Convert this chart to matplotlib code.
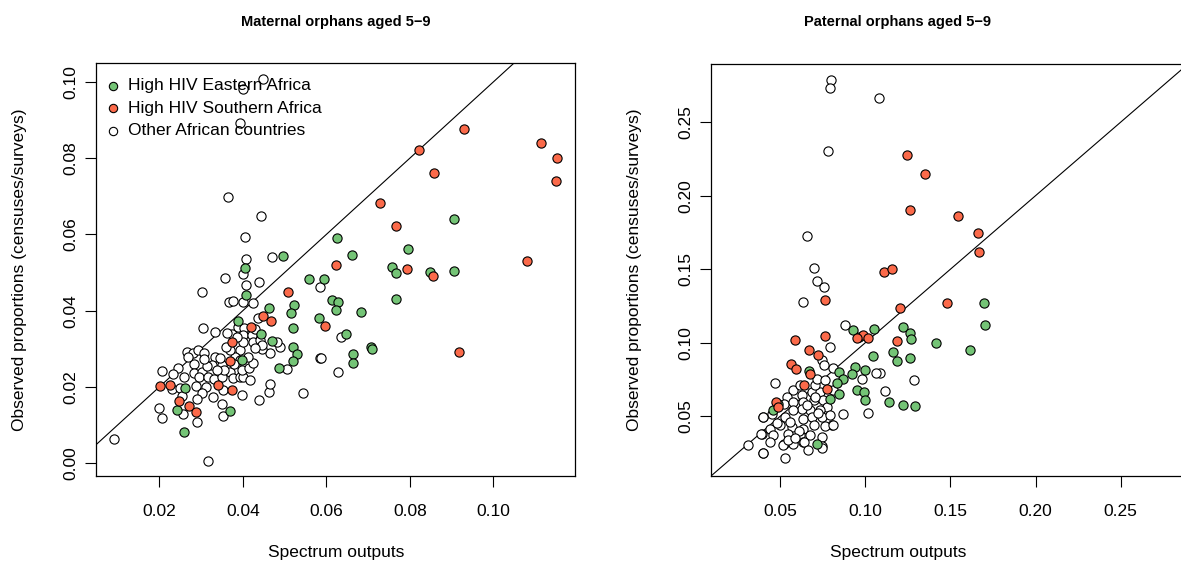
import os
import numpy as np
import matplotlib.pyplot as plt
from matplotlib import font_manager as fm

plt.rcParams["font.family"] = ["Liberation Sans", "DejaVu Sans"]

# -----------------------------
# DATA
# -----------------------------
GREEN = "#74C476"
RED = "#FB6A4A"

# maternal orphans: High HIV Eastern Africa
mat_east_x = [0.0626, 0.0662, 0.0906, 0.0795, 0.0758, 0.0767, 0.0848, 0.0905, 0.0558, 0.0594,
              0.0614, 0.0629, 0.0623, 0.0683, 0.0583, 0.0766, 0.0648, 0.0707, 0.0709, 0.0664,
              0.0663, 0.0407, 0.0463, 0.0523, 0.0516, 0.0520, 0.0521, 0.0529, 0.0520, 0.0487,
              0.0443, 0.0469, 0.0397, 0.0388, 0.0370, 0.0405, 0.0495, 0.0262, 0.0243, 0.0260]
mat_east_y = [0.0591, 0.0545, 0.0641, 0.0563, 0.0514, 0.0498, 0.0502, 0.0503, 0.0484, 0.0483,
              0.0428, 0.0423, 0.0402, 0.0396, 0.0381, 0.0430, 0.0338, 0.0304, 0.0299, 0.0286,
              0.0262, 0.0441, 0.0408, 0.0414, 0.0393, 0.0354, 0.0305, 0.0285, 0.0269, 0.0249,
              0.0339, 0.0320, 0.0270, 0.0373, 0.0137, 0.0513, 0.0543, 0.0196, 0.0139, 0.0081]

# maternal orphans: High HIV Southern Africa
mat_south_x = [0.0930, 0.1115, 0.1153, 0.1151, 0.0821, 0.0859, 0.0728, 0.0767, 0.0624, 0.0793,
               0.0855, 0.1080, 0.0598, 0.0918, 0.0507, 0.0467, 0.0449, 0.0419, 0.0373, 0.0370,
               0.0340, 0.0375, 0.0202, 0.0225, 0.0247, 0.0272, 0.0288]
mat_south_y = [0.0876, 0.0839, 0.0800, 0.0739, 0.0822, 0.0761, 0.0682, 0.0621, 0.0520, 0.0509,
               0.0490, 0.0529, 0.0360, 0.0292, 0.0448, 0.0373, 0.0386, 0.0356, 0.0317, 0.0269,
               0.0205, 0.0192, 0.0202, 0.0205, 0.0163, 0.0151, 0.0133]

# maternal orphans: other African countries
mat_other_x = [0.0448, 0.0400, 0.0393, 0.0365, 0.0443, 0.0406, 0.0407, 0.0470, 0.0357, 0.0400,
               0.0408, 0.0439, 0.0301, 0.0367, 0.0377, 0.0400, 0.0424, 0.0305, 0.0333, 0.0437,
               0.0205, 0.0200, 0.0205, 0.0091, 0.0317, 0.0291, 0.0256, 0.0352, 0.0349, 0.0439,
               0.0462, 0.0465, 0.0397, 0.0545, 0.0505, 0.0585, 0.0489, 0.0481, 0.0465, 0.0447,
               0.0245, 0.0233, 0.0259, 0.0265, 0.0280, 0.0292, 0.0308, 0.0283, 0.0269, 0.0282,
               0.0302, 0.0294, 0.0317, 0.0331, 0.0351, 0.0288, 0.0312, 0.0301, 0.0291, 0.0328,
               0.0353, 0.0230, 0.0249, 0.0255, 0.0333, 0.0325, 0.0349, 0.0369, 0.0377, 0.0393,
               0.0401, 0.0417, 0.0397, 0.0415, 0.0425, 0.0413, 0.0393, 0.0381, 0.0369, 0.0359,
               0.0373, 0.0389, 0.0403, 0.0400, 0.0401, 0.0421, 0.0425, 0.0429, 0.0441, 0.0445,
               0.0429, 0.0385, 0.0363, 0.0393, 0.0378, 0.0345, 0.0354, 0.0338, 0.0313, 0.0307,
               0.0584, 0.0634, 0.0587, 0.0627]
mat_other_y = [0.1009, 0.0981, 0.0892, 0.0697, 0.0648, 0.0592, 0.0535, 0.0540, 0.0486, 0.0495,
               0.0467, 0.0474, 0.0450, 0.0422, 0.0425, 0.0422, 0.0419, 0.0354, 0.0343, 0.0381,
               0.0241, 0.0144, 0.0117, 0.0062, 0.0006, 0.0107, 0.0130, 0.0124, 0.0154, 0.0165,
               0.0187, 0.0207, 0.0178, 0.0183, 0.0247, 0.0275, 0.0304, 0.0318, 0.0288, 0.0300,
               0.0249, 0.0235, 0.0227, 0.0292, 0.0288, 0.0297, 0.0290, 0.0259, 0.0279, 0.0237,
               0.0240, 0.0225, 0.0227, 0.0220, 0.0227, 0.0202, 0.0200, 0.0183, 0.0167, 0.0174,
               0.0193, 0.0194, 0.0198, 0.0177, 0.0279, 0.0257, 0.0257, 0.0240, 0.0222, 0.0227,
               0.0225, 0.0218, 0.0244, 0.0249, 0.0262, 0.0279, 0.0297, 0.0279, 0.0297, 0.0305,
               0.0340, 0.0358, 0.0354, 0.0336, 0.0318, 0.0336, 0.0318, 0.0351, 0.0323, 0.0310,
               0.0301, 0.0330, 0.0342, 0.0270, 0.0260, 0.0275, 0.0244, 0.0244, 0.0255, 0.0272,
               0.0462, 0.0332, 0.0276, 0.0239]

# paternal orphans: High HIV Eastern Africa
pat_east_x = [0.1699, 0.1703, 0.1221, 0.1260, 0.1270, 0.1417, 0.1160, 0.1186, 0.1260, 0.1614,
              0.1140, 0.1219, 0.1289, 0.0927, 0.1052, 0.0964, 0.1048, 0.0672, 0.0848, 0.0868,
              0.0833, 0.0941, 0.0921, 0.0999, 0.0848, 0.0794, 0.0951, 0.0994, 0.0998, 0.0714,
              0.0490, 0.0461]
pat_east_y = [0.1271, 0.1119, 0.1108, 0.1069, 0.1024, 0.0997, 0.0935, 0.0874, 0.0897, 0.0951,
              0.0600, 0.0580, 0.0568, 0.1085, 0.1090, 0.1040, 0.0908, 0.0808, 0.0801, 0.0756,
              0.0727, 0.0836, 0.0790, 0.0813, 0.0650, 0.0620, 0.0682, 0.0666, 0.0609, 0.0312,
              0.0586, 0.0541]

# paternal orphans: High HIV Southern Africa
pat_south_x = [0.1244, 0.1348, 0.1260, 0.1544, 0.1663, 0.1667, 0.1111, 0.1158, 0.1203, 0.1477,
               0.1189, 0.0764, 0.0590, 0.0764, 0.0670, 0.0725, 0.0563, 0.0594, 0.0676, 0.0643,
               0.0986, 0.1015, 0.0951, 0.0477, 0.0490, 0.0774]
pat_south_y = [0.2276, 0.2146, 0.1901, 0.1865, 0.1745, 0.1616, 0.1484, 0.1498, 0.1233, 0.1267,
               0.1012, 0.1289, 0.1017, 0.1046, 0.0949, 0.0920, 0.0858, 0.0820, 0.0790, 0.0711,
               0.1051, 0.1033, 0.1029, 0.0597, 0.0563, 0.0688]

# paternal orphans: other African countries
pat_other_x = [0.0796, 0.0794, 0.1078, 0.0782, 0.0660, 0.0698, 0.0719, 0.0757, 0.1287, 0.1117,
               0.1088, 0.0637, 0.0882, 0.0794, 0.0745, 0.0760, 0.0813, 0.0980, 0.1064, 0.1015,
               0.0868, 0.0471, 0.0578, 0.0627, 0.0686, 0.0735, 0.0706, 0.0618, 0.0716, 0.0764,
               0.0810, 0.0539, 0.0520, 0.0578, 0.0637, 0.0696, 0.0754, 0.0774, 0.0735, 0.0676,
               0.0627, 0.0578, 0.0637, 0.0686, 0.0745, 0.0794, 0.0804, 0.0764, 0.0696, 0.0637,
               0.0569, 0.0500, 0.0441, 0.0402, 0.0451, 0.0529, 0.0549, 0.0618, 0.0676, 0.0745,
               0.0461, 0.0520, 0.0578, 0.0637, 0.0745, 0.0310, 0.0398, 0.0529, 0.0392, 0.0441,
               0.0516, 0.0549, 0.0641, 0.0745, 0.0813, 0.0398, 0.0387, 0.0402,
               0.0560, 0.0655, 0.0705, 0.0610, 0.0480, 0.0720, 0.0590, 0.0665]
pat_other_y = [0.2786, 0.2731, 0.2665, 0.2301, 0.1729, 0.1511, 0.1418, 0.1382, 0.0750, 0.0672,
               0.0797, 0.1278, 0.1119, 0.0971, 0.0881, 0.0847, 0.0829, 0.0752, 0.0797, 0.0522,
               0.0518, 0.0727, 0.0677, 0.0648, 0.0666, 0.0666, 0.0711, 0.0711, 0.0756, 0.0745,
               0.0682, 0.0631, 0.0586, 0.0597, 0.0597, 0.0609, 0.0609, 0.0563, 0.0541, 0.0546,
               0.0552, 0.0541, 0.0484, 0.0495, 0.0495, 0.0507, 0.0439, 0.0432, 0.0439, 0.0416,
               0.0427, 0.0439, 0.0416, 0.0495, 0.0518, 0.0495, 0.0382, 0.0371, 0.0371, 0.0359,
               0.0371, 0.0314, 0.0314, 0.0325, 0.0296, 0.0307, 0.0253, 0.0219, 0.0382, 0.0325,
               0.0303, 0.0337, 0.0325, 0.0284, 0.0439, 0.0495, 0.0378, 0.0250,
               0.0460, 0.0575, 0.0630, 0.0400, 0.0455, 0.0520, 0.0350, 0.0270]

W, H = 1181, 565
FS = 12.5

# bold titles: use the regular-width Liberation Sans Bold file (not the Narrow one)
bold_path = None
for f in fm.findSystemFonts():
    if os.path.basename(f).lower() == "liberationsans-bold.ttf":
        bold_path = f
        break
if bold_path:
    title_fp = fm.FontProperties(fname=bold_path, size=10.5)
else:
    title_fp = fm.FontProperties(family="Liberation Sans", weight="bold", size=10.5)


def px_axes(fig, x0, y0, x1, y1):
    # axes box given in pixel coordinates of the reference picture
    return fig.add_axes([x0 / W, 1 - y1 / H, (x1 - x0) / W, (y1 - y0) / H])


def draw_panel(ax, groups, xlim, ylim, xticks, yticks, fmt):
    for xs, ys, col in groups:
        ax.scatter(xs, ys, s=44, facecolor=col, edgecolor="black", linewidth=0.8, zorder=3)
    lo = min(xlim[0], ylim[0])
    hi = max(xlim[1], ylim[1])
    ax.plot([lo, hi], [lo, hi], color="black", linewidth=0.8, zorder=2)
    ax.set_xlim(xlim)
    ax.set_ylim(ylim)
    ax.set_xticks(xticks)
    ax.set_yticks(yticks)
    ax.set_xticklabels([fmt % v for v in xticks])
    ax.set_yticklabels([fmt % v for v in yticks], rotation=90, va="center")
    ax.tick_params(length=8, width=0.8, labelsize=FS, direction="out")
    ax.tick_params(axis="x", pad=12)
    ax.tick_params(axis="y", pad=5)
    for sp in ax.spines.values():
        sp.set_linewidth(0.9)


fig = plt.figure(figsize=(W / 100, H / 100), dpi=100)

# -----------------------------
# LEFT: maternal
# -----------------------------
ax1 = px_axes(fig, 96, 63, 575, 476)
draw_panel(ax1,
           [(mat_other_x, mat_other_y, "white"),
            (mat_east_x, mat_east_y, GREEN),
            (mat_south_x, mat_south_y, RED)],
           (0.0048, 0.1196), (-0.0034, 0.1050),
           [0.02, 0.04, 0.06, 0.08, 0.10], [0.00, 0.02, 0.04, 0.06, 0.08, 0.10], "%.2f")

h1 = ax1.scatter([], [], s=36, facecolor=GREEN, edgecolor="black", linewidth=0.8)
h2 = ax1.scatter([], [], s=36, facecolor=RED, edgecolor="black", linewidth=0.8)
h3 = ax1.scatter([], [], s=36, facecolor="white", edgecolor="black", linewidth=0.8)
ax1.legend([h1, h2, h3], ["High HIV Eastern Africa", "High HIV Southern Africa", "Other African countries"],
           loc="upper left", bbox_to_anchor=(-0.007, 0.993), frameon=False, fontsize=FS,
           handletextpad=0.45, borderaxespad=0.3, labelspacing=0.42, handlelength=0.9)

# -----------------------------
# RIGHT: paternal (box runs past the right edge, as in the reference)
# -----------------------------
ax2 = px_axes(fig, 711, 64, 1188, 476)
draw_panel(ax2,
           [(pat_other_x, pat_other_y, "white"),
            (pat_east_x, pat_east_y, GREEN),
            (pat_south_x, pat_south_y, RED)],
           (0.0094, 0.2895), (0.0094, 0.2895),
           [0.05, 0.10, 0.15, 0.20, 0.25], [0.05, 0.10, 0.15, 0.20, 0.25], "%.2f")

# titles and axis labels
for cx, title in [(336, "Maternal orphans aged 5\u22129"), (898, "Paternal orphans aged 5\u22129")]:
    fig.text(cx / W, 1 - 22 / H, title, ha="center", va="center", fontproperties=title_fp)
    fig.text(cx / W, 1 - 552 / H, "Spectrum outputs", ha="center", va="center", fontsize=FS)
for lx in [20, 635]:
    fig.text(lx / W, 1 - 270 / H, "Observed proportions (censuses/surveys)",
             ha="center", va="center", rotation=90, fontsize=FS)

fig.savefig("out.png", dpi=100)
